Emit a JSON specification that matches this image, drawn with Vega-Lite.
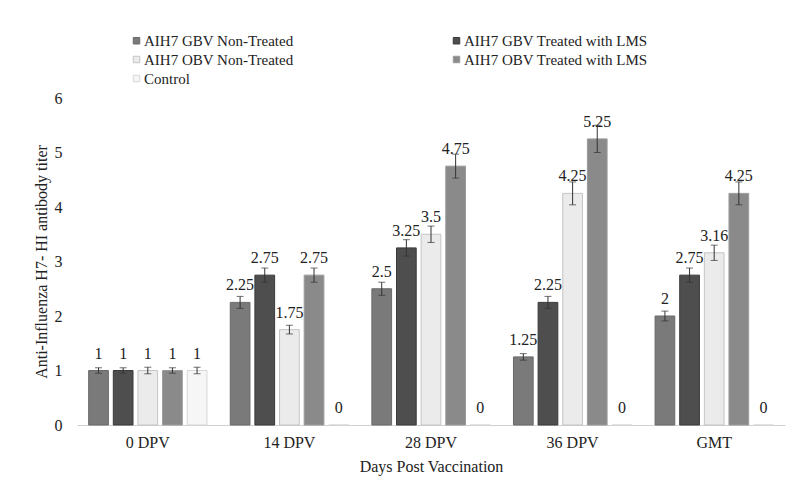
{
  "$schema": "https://vega.github.io/schema/vega-lite/v6.json",
  "width": 708,
  "height": 327,
  "autosize": {"type": "none"},
  "padding": {"left": 77, "top": 98, "right": 7, "bottom": 73},
  "background": "white",
  "config": {
    "view": {"stroke": null},
    "font": "Liberation Serif",
    "axis": {"labelFont": "Liberation Serif", "titleFont": "Liberation Serif", "labelColor": "#222", "titleColor": "#222", "labelFontSize": 16, "titleFontSize": 16, "titleFontWeight": "normal", "grid": false, "ticks": false}
  },
  "data": {
    "values": [
      {"dpv": "0 DPV", "group": "AIH7 GBV Non-Treated", "value": 1, "lo": 0.95, "hi": 1.05},
      {"dpv": "0 DPV", "group": "AIH7 GBV Treated with LMS", "value": 1, "lo": 0.95, "hi": 1.05},
      {"dpv": "0 DPV", "group": "AIH7 OBV Non-Treated", "value": 1, "lo": 0.94, "hi": 1.06},
      {"dpv": "0 DPV", "group": "AIH7 OBV Treated with LMS", "value": 1, "lo": 0.95, "hi": 1.05},
      {"dpv": "0 DPV", "group": "Control", "value": 1, "lo": 0.94, "hi": 1.06},
      {"dpv": "14 DPV", "group": "AIH7 GBV Non-Treated", "value": 2.25, "lo": 2.14, "hi": 2.36},
      {"dpv": "14 DPV", "group": "AIH7 GBV Treated with LMS", "value": 2.75, "lo": 2.62, "hi": 2.88},
      {"dpv": "14 DPV", "group": "AIH7 OBV Non-Treated", "value": 1.75, "lo": 1.67, "hi": 1.83},
      {"dpv": "14 DPV", "group": "AIH7 OBV Treated with LMS", "value": 2.75, "lo": 2.62, "hi": 2.88},
      {"dpv": "14 DPV", "group": "Control", "value": 0, "lo": null, "hi": null},
      {"dpv": "28  DPV", "group": "AIH7 GBV Non-Treated", "value": 2.5, "lo": 2.38, "hi": 2.62},
      {"dpv": "28  DPV", "group": "AIH7 GBV Treated with LMS", "value": 3.25, "lo": 3.1, "hi": 3.4},
      {"dpv": "28  DPV", "group": "AIH7 OBV Non-Treated", "value": 3.5, "lo": 3.35, "hi": 3.65},
      {"dpv": "28  DPV", "group": "AIH7 OBV Treated with LMS", "value": 4.75, "lo": 4.53, "hi": 4.97},
      {"dpv": "28  DPV", "group": "Control", "value": 0, "lo": null, "hi": null},
      {"dpv": "36 DPV", "group": "AIH7 GBV Non-Treated", "value": 1.25, "lo": 1.19, "hi": 1.31},
      {"dpv": "36 DPV", "group": "AIH7 GBV Treated with LMS", "value": 2.25, "lo": 2.14, "hi": 2.36},
      {"dpv": "36 DPV", "group": "AIH7 OBV Non-Treated", "value": 4.25, "lo": 4.04, "hi": 4.46},
      {"dpv": "36 DPV", "group": "AIH7 OBV Treated with LMS", "value": 5.25, "lo": 5.0, "hi": 5.5},
      {"dpv": "36 DPV", "group": "Control", "value": 0, "lo": null, "hi": null},
      {"dpv": "GMT", "group": "AIH7 GBV Non-Treated", "value": 2, "lo": 1.91, "hi": 2.09},
      {"dpv": "GMT", "group": "AIH7 GBV Treated with LMS", "value": 2.75, "lo": 2.62, "hi": 2.88},
      {"dpv": "GMT", "group": "AIH7 OBV Non-Treated", "value": 3.16, "lo": 3.02, "hi": 3.3},
      {"dpv": "GMT", "group": "AIH7 OBV Treated with LMS", "value": 4.25, "lo": 4.04, "hi": 4.46},
      {"dpv": "GMT", "group": "Control", "value": 0, "lo": null, "hi": null}
    ]
  },
  "encoding": {
    "x": {
      "field": "dpv", "type": "nominal",
      "sort": ["0 DPV", "14 DPV", "28  DPV", "36 DPV", "GMT"],
      "scale": {"paddingInner": 0.13, "paddingOuter": 0.065},
      "axis": {"title": "Days Post Vaccination", "labelAngle": 0, "labelPadding": 9, "titlePadding": 8, "domain": true, "domainColor": "#d0d0d0", "domainWidth": 1}
    },
    "xOffset": {
      "field": "group", "type": "nominal",
      "sort": ["AIH7 GBV Non-Treated", "AIH7 GBV Treated with LMS", "AIH7 OBV Non-Treated", "AIH7 OBV Treated with LMS", "Control"],
      "scale": {"paddingInner": 0.2, "paddingOuter": 0.1}
    }
  },
  "layer": [
    {
      "mark": {"type": "bar", "strokeWidth": 1},
      "encoding": {
        "y": {"field": "value", "type": "quantitative", "scale": {"domain": [0, 6]},
          "axis": {"title": "Anti-Influenza H7- HI antibody titer", "values": [0, 1, 2, 3, 4, 5, 6], "format": "d", "domain": false, "labelPadding": 15, "titlePadding": 5}},
        "fill": {"field": "group", "type": "nominal",
          "scale": {"domain": ["AIH7 GBV Non-Treated", "AIH7 GBV Treated with LMS", "AIH7 OBV Non-Treated", "AIH7 OBV Treated with LMS", "Control"],
            "range": ["#7a7a7a", "#4e4e4e", "#ebebeb", "#8a8a8a", "#f6f6f6"]},
          "legend": {"orient": "none", "direction": "horizontal", "legendX": 52, "legendY": -65, "columns": 2, "columnPadding": 155, "rowPadding": 3, "symbolType": "square", "symbolSize": 42, "labelFont": "Liberation Serif", "labelFontSize": 15, "labelColor": "#222", "labelLimit": 400, "title": null, "labelOffset": 0, "symbolStrokeWidth": 1}},
        "stroke": {"field": "group", "type": "nominal",
          "scale": {"domain": ["AIH7 GBV Non-Treated", "AIH7 GBV Treated with LMS", "AIH7 OBV Non-Treated", "AIH7 OBV Treated with LMS", "Control"],
            "range": ["#6a6a6a", "#3a3a3a", "#c4c4c4", "#9a9a9a", "#d6d6d6"]},
          "legend": {"orient": "none", "direction": "horizontal", "legendX": 52, "legendY": -65, "columns": 2, "columnPadding": 155, "rowPadding": 3, "symbolType": "square", "symbolSize": 42, "labelFont": "Liberation Serif", "labelFontSize": 15, "labelColor": "#222", "labelLimit": 400, "title": null, "labelOffset": 0, "symbolStrokeWidth": 1}}
      }
    },
    {
      "transform": [{"filter": "datum.hi != null"}],
      "mark": {"type": "rule", "color": "#333", "strokeWidth": 1},
      "encoding": {"y": {"field": "lo", "type": "quantitative"}, "y2": {"field": "hi"}}
    },
    {
      "transform": [{"filter": "datum.hi != null"}],
      "mark": {"type": "tick", "color": "#333", "size": 7, "thickness": 1},
      "encoding": {"y": {"field": "hi", "type": "quantitative"}}
    },
    {
      "transform": [{"filter": "datum.hi != null"}],
      "mark": {"type": "tick", "color": "#333", "size": 7, "thickness": 1},
      "encoding": {"y": {"field": "lo", "type": "quantitative"}}
    },
    {
      "mark": {"type": "text", "baseline": "bottom", "dy": -9, "fontSize": 16, "font": "Liberation Serif", "color": "#222"},
      "encoding": {"y": {"field": "value", "type": "quantitative"}, "text": {"field": "value", "type": "nominal"}}
    }
  ]
}
